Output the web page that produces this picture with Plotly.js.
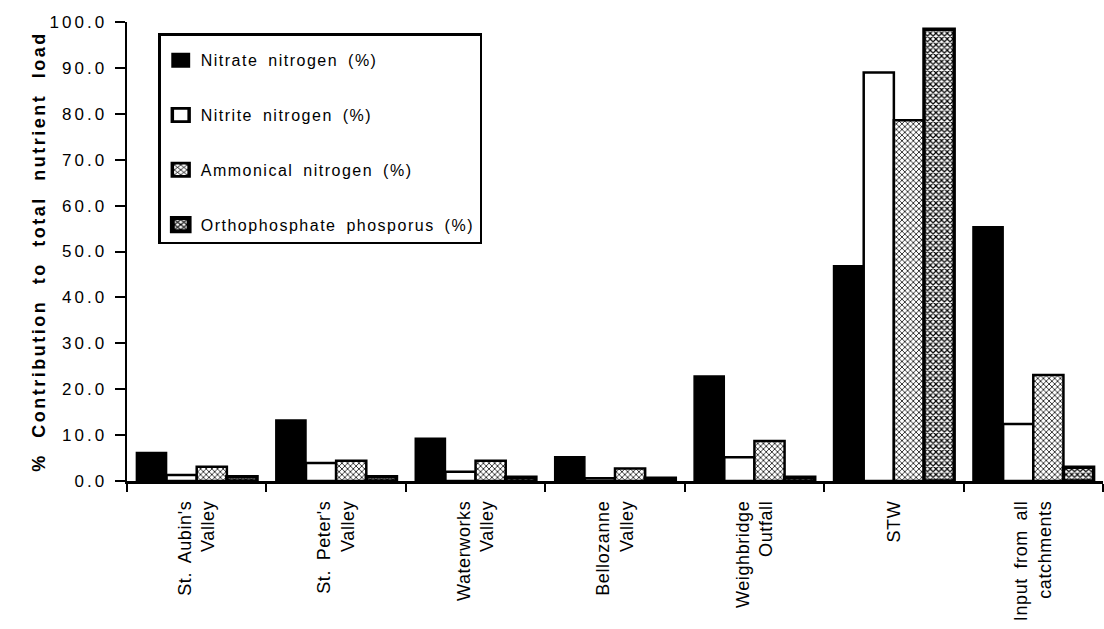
<!DOCTYPE html>
<html>
<head>
<meta charset="utf-8">
<script src="https://cdn.plot.ly/plotly-3.0.1.min.js"></script>
<style>
html,body{margin:0;padding:0;background:#fff;}
#chart{width:1104px;height:629px;}
.legendtext{letter-spacing:1.5px;word-spacing:4px;}
.ytick text{letter-spacing:3px;}
.xtick text{letter-spacing:0.6px;word-spacing:4px;}
.ytitle{letter-spacing:2.5px;word-spacing:8px;}
.legend .legendpoints path{transform:translate(20px,0) scale(1.4,1.1);}
</style>
</head>
<body>
<div id="chart"></div>
<script>
const categories = ["St. Aubin's<br>Valley", "St. Peter's<br>Valley", "Waterworks<br>Valley", "Bellozanne<br>Valley", "Weighbridge<br>Outfall", "STW", "Input from all<br>catchments"];
const nitrate = [6.2, 13.3, 9.3, 5.3, 22.9, 46.9, 55.4];
const nitrite = [1.3, 3.9, 2.0, 0.6, 5.2, 89.0, 12.4];
const ammonical = [3.1, 4.4, 4.4, 2.7, 8.7, 78.6, 23.1];
const orthophosphate = [0.9, 0.9, 0.8, 0.6, 0.8, 98.4, 3.0];
const seriesNames = ["Nitrate nitrogen (%)", "Nitrite nitrogen (%)", "Ammonical nitrogen (%)", "Orthophosphate phosporus (%)"];
const yTicks = [0, 10, 20, 30, 40, 50, 60, 70, 80, 90, 100];

const font = "Liberation Sans, Arial, sans-serif";
const traces = [
  {name: seriesNames[0], y: nitrate, marker: {color: "#000", line: {color: "#000", width: 1.5}}},
  {name: seriesNames[1], y: nitrite, marker: {color: "#fff", line: {color: "#000", width: 2.5}}},
  {name: seriesNames[2], y: ammonical, marker: {color: "#fff", line: {color: "#000", width: 2.5}, pattern: {shape: "x", fgcolor: "#000", bgcolor: "#fff", size: 4, solidity: 0.35}}},
  {name: seriesNames[3], y: orthophosphate, marker: {color: "#fff", line: {color: "#000", width: 3.5}, pattern: {shape: "x", fgcolor: "#000", bgcolor: "#fff", size: 4, solidity: 0.5}}}
].map((t, i) => Object.assign({type: "bar", x: categories, legendgroup: "g" + i}, t));

const layout = {
  width: 1104, height: 629,
  margin: {l: 127, r: 1, t: 22, b: 148},
  paper_bgcolor: "#fff", plot_bgcolor: "#fff",
  barmode: "group", bargap: 0.135, bargroupgap: 0,
  font: {family: font, color: "#000", size: 15},
  showlegend: true,
  legend: {
    x: 0.032, y: 0.976, xanchor: "left", yanchor: "top",
    bordercolor: "#000", borderwidth: 2.5, bgcolor: "#fff",
    font: {family: font, size: 16, color: "#000"},
    title: {text: " ", font: {family: font, size: 6, color: "#000"}},
    tracegroupgap: 31, traceorder: "grouped"
  },
  xaxis: {
    type: "category", tickson: "boundaries", ticks: "outside", ticklen: 8, tickwidth: 2, tickcolor: "#000",
    showline: true, linecolor: "#000", linewidth: 2.5, showgrid: false, zeroline: false,
    tickangle: -90, ticklabelstandoff: 10, tickfont: {family: font, size: 18, color: "#000"}
  },
  yaxis: {
    range: [0, 100], tickvals: yTicks, tickformat: ".1f",
    ticks: "outside", ticklen: 10, tickwidth: 2, tickcolor: "#000",
    showline: true, linecolor: "#000", linewidth: 2.5, showgrid: false, zeroline: false,
    ticklabelstandoff: 4,
    tickfont: {family: font, size: 17, color: "#000"},
    title: {text: "% Contribution to total nutrient load", font: {family: font, size: 18, color: "#000", weight: "bold"}, standoff: 0}
  }
};
Plotly.newPlot("chart", traces, layout, {displayModeBar: false, staticPlot: true});
</script>
</body>
</html>
